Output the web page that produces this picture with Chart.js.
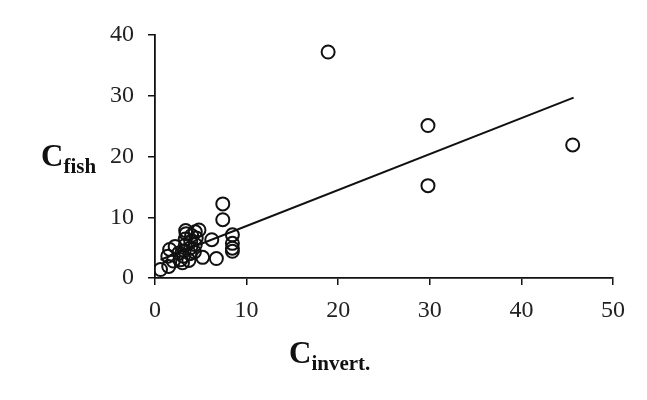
<!DOCTYPE html>
<html>
<head>
<meta charset="utf-8">
<script src="https://cdn.jsdelivr.net/npm/chart.js@4.4.1/dist/chart.umd.min.js"></script>
<style>
  html,body{margin:0;padding:0;background:#fff;}
  #wrap{position:relative;width:647px;height:400px;}
  .ttl{position:absolute;font-family:"Liberation Serif","Times New Roman",serif;font-weight:bold;color:#111;white-space:nowrap;line-height:1;}
  .ttl .big{font-size:31px;}
  .ttl sub{font-size:21px;vertical-align:-7px;}
</style>
</head>
<body>
<div id="wrap">
  <canvas id="c" width="647" height="400"></canvas>
  <div class="ttl" style="left:41px;top:140px"><span class="big">C</span><sub>fish</sub></div>
  <div class="ttl" style="left:289px;top:337px"><span class="big">C</span><sub>invert.</sub></div>
</div>
<script>
// Valores
const cInvert = [0.6,1.5,1.6,1.4,2.0,2.2,2.6,2.8,3.0,3.1,3.2,3.3,3.3,3.4,3.35,3.7,3.8,3.9,3.9,4.0,4.3,4.4,4.5,4.4,4.8,5.2,6.2,6.7,7.4,7.4,8.45,8.45,8.45,8.45,18.9,29.8,29.8,45.6];
const cFish   = [1.4,1.9,4.7,3.6,2.8,5.2,4.1,3.0,2.5,3.6,4.5,5.4,6.4,7.3,7.8,2.9,4.0,5.0,6.0,7.0,4.3,5.5,6.6,7.6,7.9,3.4,6.3,3.2,12.2,9.6,7.1,5.7,4.9,4.4,37.2,25.1,15.2,21.9];
// Recta de tendencia (extremos leídos)
const trendX = [0.6, 45.7];
const trendY = [3.0, 29.7];
const xTicks = [0,10,20,30,40,50];
const yTicks = [0,10,20,30,40];

const puntos = cInvert.map((x,i)=>({x, y:cFish[i]}));
const recta  = trendX.map((x,i)=>({x, y:trendY[i]}));

const tickFont = { family:'"Liberation Serif","Times New Roman",serif', size:24 };

new Chart(document.getElementById('c'), {
  type:'scatter',
  data:{
    datasets:[
      {
        data: puntos,
        pointRadius: 6.5,
        pointHoverRadius: 6.5,
        pointBorderWidth: 2,
        pointBorderColor: '#111',
        pointBackgroundColor: 'rgba(0,0,0,0)',
        showLine: false
      },
      {
        type:'line',
        data: recta,
        borderColor:'#111',
        borderWidth: 2,
        pointRadius: 0,
        fill:false
      }
    ]
  },
  options:{
    responsive:false,
    animation:false,
    layout:{ padding:{ left:0, top:35, right:34, bottom:0 } },
    plugins:{ legend:{display:false}, tooltip:{enabled:false} },
    scales:{
      x:{
        type:'linear', min:0, max:50,
        afterBuildTicks: s => { s.ticks = xTicks.map(v=>({value:v})); },
        afterFit: s => { s.height = 122; },
        grid:{ drawOnChartArea:false, drawTicks:true, tickLength:7, color:'#111', lineWidth:1.5 },
        border:{ display:true, color:'#111', width:1.8 },
        ticks:{ font:tickFont, color:'#222', padding:11, maxRotation:0 }
      },
      y:{
        type:'linear', min:0, max:40,
        afterBuildTicks: s => { s.ticks = yTicks.map(v=>({value:v})); },
        afterFit: s => { s.width = 155; },
        grid:{ drawOnChartArea:false, drawTicks:true, tickLength:7, color:'#111', lineWidth:1.5 },
        border:{ display:true, color:'#111', width:1.8 },
        ticks:{ font:tickFont, color:'#222', padding:14 }
      }
    }
  }
});
</script>
</body>
</html>
